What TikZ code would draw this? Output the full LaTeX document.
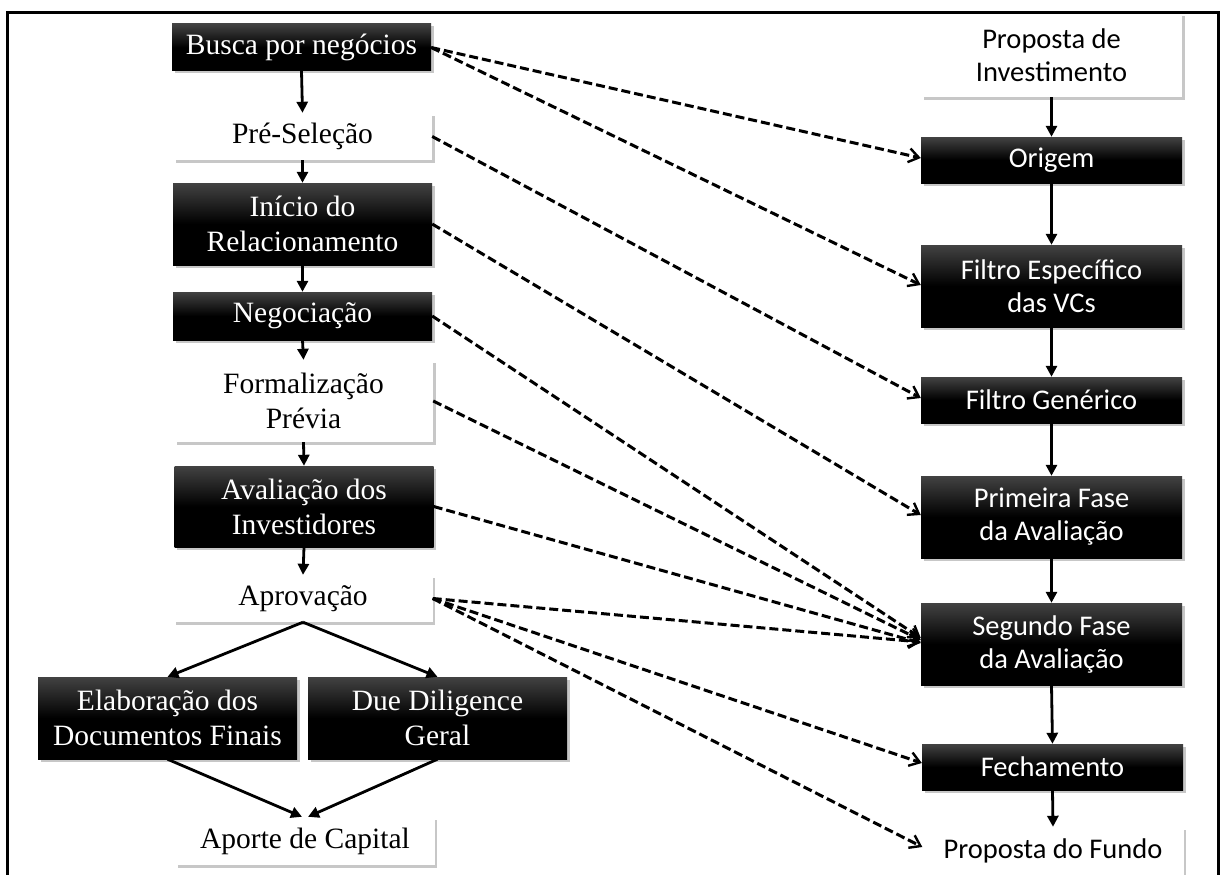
\documentclass[tikz,border=0pt]{standalone}
\usepackage{fontspec}
\setmainfont{Liberation Serif}
\newfontfamily\calibrifont{Carlito}
\usetikzlibrary{arrows.meta,shadows}
\begin{document}
\begin{tikzpicture}[x=1pt,y=-1pt,
  box/.style={rectangle, inner sep=0pt, align=center,
    font=\fontsize{29.5pt}{35pt}\selectfont,
    drop shadow={shadow xshift=2.5pt,shadow yshift=-2.5pt,opacity=0.22,fill=black}},
  blk/.style={box, top color=black!74, bottom color=black, middle color=black, text=white},
  wht/.style={box, fill=white, text=black},
  sf/.style={font=\calibrifont\fontsize{28.5pt}{33pt}\selectfont},
  lw/.style={minimum width=259pt},
  rw/.style={minimum width=261pt},
  dar/.style={dash pattern=on 9pt off 4pt, line width=3pt,
    -{Straight Barb[length=10pt,width=14pt,line width=2.4pt]}},
  sar/.style={line width=2.8pt, -{Triangle[length=11pt,width=11pt]}}
]
\useasboundingbox (0,0) rectangle (1221,875);
\fill[white] (0,0) rectangle (1221,875);
\draw[line width=3pt] (7,875) -- (7,13) -- (1218,13) -- (1218,875);

% left column
\node[blk, lw, minimum height=47pt] (busca) at (301.5,47.5) {Busca por negócios};
\node[wht, lw, minimum height=47pt] (presel) at (302.5,136.5) {Pré-Seleção};
\node[blk, lw, minimum height=82pt] (inicio) at (302.5,224) {Início do\\Relacionamento};
\node[blk, lw, minimum height=48pt] (negoc) at (302.5,316) {Negociação};
\node[wht, lw, minimum height=82pt] (formal) at (303.5,401) {Formalização\\Prévia};
\node[blk, lw, minimum height=81pt] (avalia) at (304,506.5) {Avaliação dos\\Investidores};
\node[wht, lw, minimum height=47pt] (aprov) at (303,598.5) {Aprovação};
\node[blk, lw, minimum height=82pt] (elab) at (167.5,718) {Elaboração dos\\Documentos Finais};
\node[blk, lw, minimum height=82pt] (due) at (437.5,718) {Due Diligence\\Geral};
\node[wht, lw, minimum height=48pt] (aporte) at (305,841) {Aporte de Capital};

% right column
\node[wht, sf, rw, minimum height=83pt] (propinv) at (1051.5,55.5) {Proposta de\\Investimento};
\node[blk, sf, rw, minimum height=46pt] (origem) at (1051.5,160) {Origem};
\node[blk, sf, rw, minimum height=82pt] (filtroesp) at (1051.5,286) {Filtro Específico\\das VCs};
\node[blk, sf, rw, minimum height=46pt] (filtrogen) at (1051.5,400) {Filtro Genérico};
\node[blk, sf, rw, minimum height=82pt] (primeira) at (1051.5,517) {Primeira Fase\\da Avaliação};
\node[blk, sf, rw, minimum height=82pt] (segundo) at (1051.5,644) {Segundo Fase\\da Avaliação};
\node[blk, sf, rw, minimum height=46pt] (fecham) at (1052.5,767) {Fechamento};
\node[wht, sf, rw, minimum height=48pt] (propfundo) at (1053,851) {Proposta do Fundo};

% solid arrows left
\draw[sar] (busca.south) -- (presel.north);
\draw[sar] (presel.south) -- (inicio.north);
\draw[sar] (inicio.south) -- (negoc.north);
\draw[sar] (negoc.south) -- (formal.north);
\draw[sar] (formal.south) -- (avalia.north);
\draw[sar] (avalia.south) -- (aprov.north);
\draw[sar] (aprov.south) -- (elab.north);
\draw[sar] (aprov.south) -- (due.north);
\draw[sar] (elab.south) -- ([xshift=-3pt]aporte.north);
\draw[sar] (due.south) -- ([xshift=3pt]aporte.north);

% solid arrows right
\draw[sar] (propinv.south) -- (origem.north);
\draw[sar] (origem.south) -- (filtroesp.north);
\draw[sar] (filtroesp.south) -- (filtrogen.north);
\draw[sar] (filtrogen.south) -- (primeira.north);
\draw[sar] (primeira.south) -- (segundo.north);
\draw[sar] (segundo.south) -- (fecham.north);
\draw[sar] (fecham.south) -- (propfundo.north);

% dashed arrows
\draw[dar] (busca.east) -- ([yshift=2pt]origem.west);
\draw[dar] (busca.east) -- ([yshift=1pt]filtroesp.west);
\draw[dar] (presel.east) -- ([yshift=2pt]filtrogen.west);
\draw[dar] (inicio.east) -- ([yshift=2pt]primeira.west);
\draw[dar] (negoc.east) -- ([yshift=6pt]segundo.west);
\draw[dar] (formal.east) -- ([yshift=4pt]segundo.west);
\draw[dar] (avalia.east) -- ([yshift=1pt]segundo.west);
\draw[dar] (aprov.east) -- ([yshift=2pt]segundo.west);
\draw[dar] (aprov.east) -- ([yshift=4pt]fecham.west);
\draw[dar] (aprov.east) -- ([yshift=4pt]propfundo.west);
\end{tikzpicture}
\end{document}
